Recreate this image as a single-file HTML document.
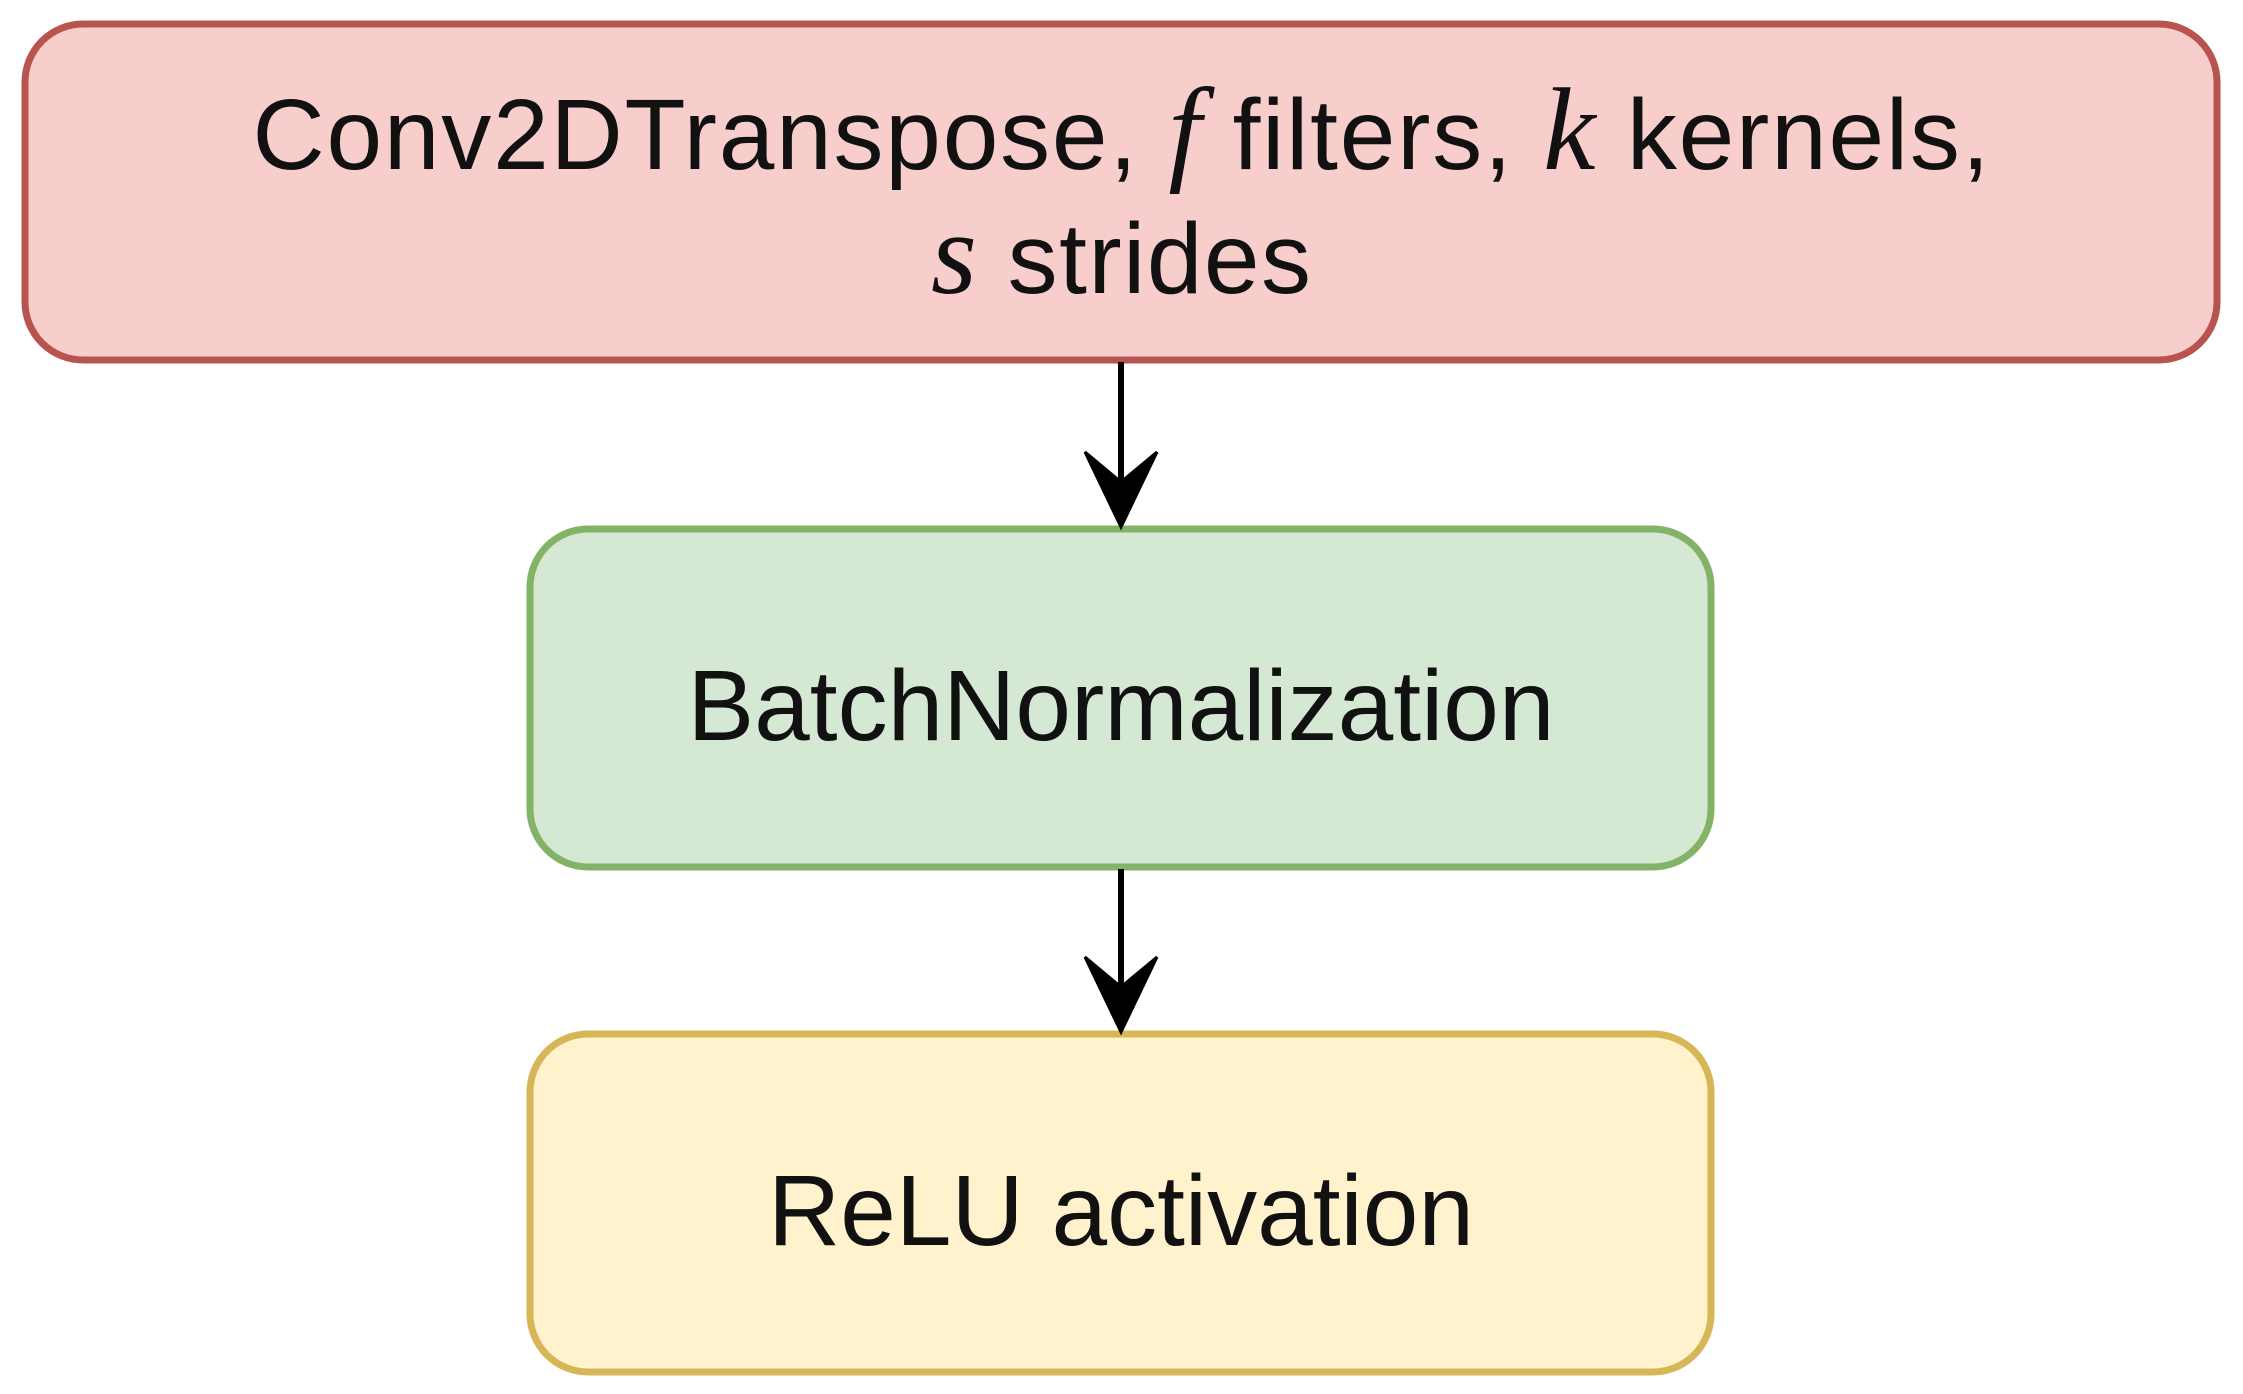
<!DOCTYPE html>
<html><head><meta charset="utf-8"><style>html,body{margin:0;padding:0;background:#fff}svg{display:block}</style></head>
<body>
<svg width="2243" height="1394" viewBox="0 0 2243 1394" xmlns="http://www.w3.org/2000/svg">
<rect x="25" y="24" width="2192" height="336" rx="58" fill="#f8cecc" stroke="#b85450" stroke-width="7"/>
<rect x="530" y="529" width="1181" height="338" rx="58" fill="#d5e8d4" stroke="#82b366" stroke-width="7"/>
<rect x="530" y="1034" width="1181" height="338" rx="58" fill="#fff2cc" stroke="#d6b656" stroke-width="7"/>
<line x1="1121" y1="362" x2="1121" y2="480" stroke="#000" stroke-width="6"/>
<path d="M1121 527 L1085 452 L1121 482 L1157 452 Z" fill="#000" stroke="#000" stroke-width="3"/>
<line x1="1121" y1="869" x2="1121" y2="985" stroke="#000" stroke-width="6"/>
<path d="M1121 1032 L1085 957 L1121 987 L1157 957 Z" fill="#000" stroke="#000" stroke-width="3"/>
<g font-family="Liberation Sans, sans-serif" font-size="100" fill="#111" text-anchor="middle">
<text x="1121" y="169" textLength="1737" lengthAdjust="spacing">Conv2DTranspose, <tspan font-family="Liberation Serif, serif" font-style="italic" font-size="118">f</tspan> filters, <tspan font-family="Liberation Serif, serif" font-style="italic" font-size="118">k</tspan> kernels,</text>
<text x="1121" y="293" textLength="380" lengthAdjust="spacing"><tspan font-family="Liberation Serif, serif" font-style="italic" font-size="118">s</tspan> strides</text>
<text x="1121" y="740">BatchNormalization</text>
<text x="1121" y="1245">ReLU activation</text>
</g>
</svg>
</body></html>
